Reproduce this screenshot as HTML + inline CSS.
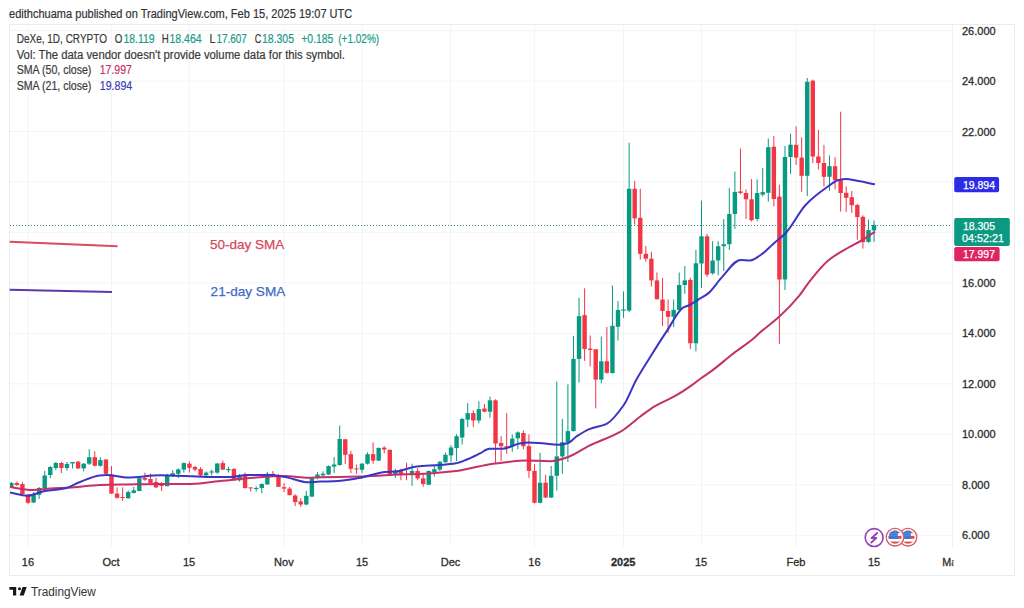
<!DOCTYPE html><html><head><meta charset="utf-8"><style>
html,body{margin:0;padding:0;background:#fff;width:1024px;height:608px;overflow:hidden;}
svg{position:absolute;left:0;top:0;}
text{font-family:"Liberation Sans",sans-serif;}
</style></head><body>
<svg width="1024" height="608" viewBox="0 0 1024 608">
<rect x="0" y="0" width="1024" height="608" fill="#ffffff"/>
<rect x="9.5" y="24.5" width="1005" height="551" fill="none" stroke="#ececec" stroke-width="1"/>
<line x1="10" y1="535.3" x2="952" y2="535.3" stroke="#f3f4f6" stroke-width="1"/>
<line x1="10" y1="484.8" x2="952" y2="484.8" stroke="#f3f4f6" stroke-width="1"/>
<line x1="10" y1="434.3" x2="952" y2="434.3" stroke="#f3f4f6" stroke-width="1"/>
<line x1="10" y1="383.9" x2="952" y2="383.9" stroke="#f3f4f6" stroke-width="1"/>
<line x1="10" y1="333.4" x2="952" y2="333.4" stroke="#f3f4f6" stroke-width="1"/>
<line x1="10" y1="282.9" x2="952" y2="282.9" stroke="#f3f4f6" stroke-width="1"/>
<line x1="10" y1="232.4" x2="952" y2="232.4" stroke="#f3f4f6" stroke-width="1"/>
<line x1="10" y1="181.9" x2="952" y2="181.9" stroke="#f3f4f6" stroke-width="1"/>
<line x1="10" y1="131.5" x2="952" y2="131.5" stroke="#f3f4f6" stroke-width="1"/>
<line x1="10" y1="81.0" x2="952" y2="81.0" stroke="#f3f4f6" stroke-width="1"/>
<line x1="10" y1="30.5" x2="952" y2="30.5" stroke="#f3f4f6" stroke-width="1"/>
<line x1="28" y1="25" x2="28" y2="547" stroke="#f3f4f6" stroke-width="1"/>
<line x1="111.5" y1="25" x2="111.5" y2="547" stroke="#f3f4f6" stroke-width="1"/>
<line x1="189.3" y1="25" x2="189.3" y2="547" stroke="#f3f4f6" stroke-width="1"/>
<line x1="284.2" y1="25" x2="284.2" y2="547" stroke="#f3f4f6" stroke-width="1"/>
<line x1="362.2" y1="25" x2="362.2" y2="547" stroke="#f3f4f6" stroke-width="1"/>
<line x1="450.5" y1="25" x2="450.5" y2="547" stroke="#f3f4f6" stroke-width="1"/>
<line x1="534.5" y1="25" x2="534.5" y2="547" stroke="#f3f4f6" stroke-width="1"/>
<line x1="623.5" y1="25" x2="623.5" y2="547" stroke="#f3f4f6" stroke-width="1"/>
<line x1="701.5" y1="25" x2="701.5" y2="547" stroke="#f3f4f6" stroke-width="1"/>
<line x1="796.2" y1="25" x2="796.2" y2="547" stroke="#f3f4f6" stroke-width="1"/>
<line x1="874" y1="25" x2="874" y2="547" stroke="#f3f4f6" stroke-width="1"/>
<line x1="952.5" y1="25" x2="952.5" y2="547.5" stroke="#efefef" stroke-width="1"/>
<g clip-path="url(#cp)">
<defs><clipPath id="cp"><rect x="10" y="25" width="942" height="522"/></clipPath></defs>
<rect x="10.80" y="482.0" width="1" height="6.0" fill="#089981"/>
<rect x="9.10" y="483.0" width="4.4" height="4.0" fill="#089981"/>
<rect x="16.37" y="481.5" width="1" height="4.5" fill="#f23645"/>
<rect x="14.67" y="483.0" width="4.4" height="2.0" fill="#f23645"/>
<rect x="21.93" y="482.0" width="1" height="13.0" fill="#f23645"/>
<rect x="20.23" y="484.0" width="4.4" height="10.0" fill="#f23645"/>
<rect x="27.50" y="494.0" width="1" height="10.0" fill="#f23645"/>
<rect x="25.80" y="494.7" width="4.4" height="8.1" fill="#f23645"/>
<rect x="33.07" y="492.0" width="1" height="11.0" fill="#089981"/>
<rect x="31.37" y="494.0" width="4.4" height="8.5" fill="#089981"/>
<rect x="38.63" y="487.0" width="1" height="12.0" fill="#089981"/>
<rect x="36.93" y="488.0" width="4.4" height="6.7" fill="#089981"/>
<rect x="44.20" y="471.0" width="1" height="17.0" fill="#089981"/>
<rect x="42.50" y="475.5" width="4.4" height="12.5" fill="#089981"/>
<rect x="49.76" y="466.0" width="1" height="12.0" fill="#089981"/>
<rect x="48.06" y="467.0" width="4.4" height="8.0" fill="#089981"/>
<rect x="55.33" y="462.0" width="1" height="8.0" fill="#089981"/>
<rect x="53.63" y="463.0" width="4.4" height="5.0" fill="#089981"/>
<rect x="60.90" y="462.0" width="1" height="11.0" fill="#f23645"/>
<rect x="59.20" y="463.0" width="4.4" height="5.0" fill="#f23645"/>
<rect x="66.46" y="462.0" width="1" height="8.6" fill="#089981"/>
<rect x="64.76" y="464.0" width="4.4" height="4.0" fill="#089981"/>
<rect x="72.03" y="462.0" width="1" height="6.4" fill="#089981"/>
<rect x="70.33" y="462.0" width="4.4" height="1.5" fill="#089981"/>
<rect x="77.59" y="461.0" width="1" height="8.0" fill="#f23645"/>
<rect x="75.89" y="461.7" width="4.4" height="6.7" fill="#f23645"/>
<rect x="83.16" y="463.0" width="1" height="8.4" fill="#089981"/>
<rect x="81.46" y="463.7" width="4.4" height="4.7" fill="#089981"/>
<rect x="88.73" y="449.2" width="1" height="15.8" fill="#089981"/>
<rect x="87.03" y="457.2" width="4.4" height="6.5" fill="#089981"/>
<rect x="94.29" y="451.3" width="1" height="15.0" fill="#f23645"/>
<rect x="92.59" y="457.2" width="4.4" height="8.6" fill="#f23645"/>
<rect x="99.86" y="457.2" width="1" height="9.5" fill="#089981"/>
<rect x="98.16" y="460.1" width="4.4" height="5.7" fill="#089981"/>
<rect x="105.42" y="459.0" width="1" height="15.0" fill="#f23645"/>
<rect x="103.72" y="459.5" width="4.4" height="14.3" fill="#f23645"/>
<rect x="110.99" y="466.0" width="1" height="28.0" fill="#f23645"/>
<rect x="109.29" y="474.4" width="4.4" height="19.2" fill="#f23645"/>
<rect x="116.56" y="487.4" width="1" height="11.2" fill="#f23645"/>
<rect x="114.86" y="493.6" width="4.4" height="4.2" fill="#f23645"/>
<rect x="122.12" y="487.4" width="1" height="13.6" fill="#f23645"/>
<rect x="120.42" y="497.0" width="4.4" height="1.0" fill="#f23645"/>
<rect x="127.69" y="490.4" width="1" height="8.2" fill="#089981"/>
<rect x="125.99" y="492.1" width="4.4" height="6.2" fill="#089981"/>
<rect x="133.25" y="486.8" width="1" height="6.5" fill="#089981"/>
<rect x="131.55" y="490.4" width="4.4" height="2.6" fill="#089981"/>
<rect x="138.82" y="477.7" width="1" height="13.5" fill="#089981"/>
<rect x="137.12" y="478.2" width="4.4" height="12.8" fill="#089981"/>
<rect x="144.39" y="472.6" width="1" height="8.3" fill="#f23645"/>
<rect x="142.69" y="478.0" width="4.4" height="1.7" fill="#f23645"/>
<rect x="149.95" y="473.8" width="1" height="9.8" fill="#f23645"/>
<rect x="148.25" y="479.0" width="4.4" height="4.2" fill="#f23645"/>
<rect x="155.52" y="477.7" width="1" height="10.3" fill="#f23645"/>
<rect x="153.82" y="482.0" width="4.4" height="5.4" fill="#f23645"/>
<rect x="161.08" y="482.0" width="1" height="9.0" fill="#f23645"/>
<rect x="159.38" y="485.0" width="4.4" height="1.0" fill="#f23645"/>
<rect x="166.65" y="473.8" width="1" height="12.6" fill="#089981"/>
<rect x="164.95" y="475.5" width="4.4" height="10.7" fill="#089981"/>
<rect x="172.22" y="470.2" width="1" height="6.5" fill="#089981"/>
<rect x="170.52" y="473.2" width="4.4" height="3.3" fill="#089981"/>
<rect x="177.78" y="468.4" width="1" height="9.6" fill="#089981"/>
<rect x="176.08" y="469.4" width="4.4" height="4.4" fill="#089981"/>
<rect x="183.35" y="462.5" width="1" height="10.1" fill="#089981"/>
<rect x="181.65" y="463.1" width="4.4" height="6.5" fill="#089981"/>
<rect x="188.91" y="461.3" width="1" height="11.3" fill="#f23645"/>
<rect x="187.21" y="463.7" width="4.4" height="4.1" fill="#f23645"/>
<rect x="194.48" y="466.0" width="1" height="5.4" fill="#f23645"/>
<rect x="192.78" y="467.0" width="4.4" height="2.6" fill="#f23645"/>
<rect x="200.05" y="467.2" width="1" height="8.9" fill="#f23645"/>
<rect x="198.35" y="469.0" width="4.4" height="6.3" fill="#f23645"/>
<rect x="205.61" y="471.4" width="1" height="5.3" fill="#089981"/>
<rect x="203.91" y="472.6" width="4.4" height="2.7" fill="#089981"/>
<rect x="211.18" y="469.6" width="1" height="5.9" fill="#089981"/>
<rect x="209.48" y="471.4" width="4.4" height="1.2" fill="#089981"/>
<rect x="216.74" y="463.1" width="1" height="10.7" fill="#089981"/>
<rect x="215.04" y="463.5" width="4.4" height="9.1" fill="#089981"/>
<rect x="222.31" y="460.7" width="1" height="8.9" fill="#f23645"/>
<rect x="220.61" y="463.1" width="4.4" height="6.5" fill="#f23645"/>
<rect x="227.88" y="466.7" width="1" height="5.9" fill="#089981"/>
<rect x="226.18" y="469.0" width="4.4" height="1.2" fill="#089981"/>
<rect x="233.44" y="468.0" width="1" height="12.5" fill="#f23645"/>
<rect x="231.74" y="469.0" width="4.4" height="11.3" fill="#f23645"/>
<rect x="239.01" y="474.0" width="1" height="7.5" fill="#089981"/>
<rect x="237.31" y="475.0" width="4.4" height="5.3" fill="#089981"/>
<rect x="244.57" y="472.6" width="1" height="16.0" fill="#f23645"/>
<rect x="242.87" y="474.4" width="4.4" height="13.6" fill="#f23645"/>
<rect x="250.14" y="487.4" width="1" height="4.1" fill="#f23645"/>
<rect x="248.44" y="487.4" width="4.4" height="1.0" fill="#f23645"/>
<rect x="255.71" y="486.2" width="1" height="5.3" fill="#089981"/>
<rect x="254.01" y="488.0" width="4.4" height="1.0" fill="#089981"/>
<rect x="261.27" y="483.2" width="1" height="10.1" fill="#089981"/>
<rect x="259.57" y="484.0" width="4.4" height="4.0" fill="#089981"/>
<rect x="266.84" y="471.8" width="1" height="13.0" fill="#089981"/>
<rect x="265.14" y="473.8" width="4.4" height="10.6" fill="#089981"/>
<rect x="272.40" y="471.0" width="1" height="4.5" fill="#f23645"/>
<rect x="270.70" y="473.8" width="4.4" height="1.2" fill="#f23645"/>
<rect x="277.97" y="474.0" width="1" height="13.0" fill="#f23645"/>
<rect x="276.27" y="475.0" width="4.4" height="11.8" fill="#f23645"/>
<rect x="283.54" y="483.2" width="1" height="8.9" fill="#f23645"/>
<rect x="281.84" y="487.2" width="4.4" height="1.4" fill="#f23645"/>
<rect x="289.10" y="487.0" width="1" height="8.5" fill="#f23645"/>
<rect x="287.40" y="488.6" width="4.4" height="6.5" fill="#f23645"/>
<rect x="294.67" y="494.2" width="1" height="11.8" fill="#f23645"/>
<rect x="292.97" y="495.5" width="4.4" height="6.6" fill="#f23645"/>
<rect x="300.23" y="498.2" width="1" height="8.7" fill="#f23645"/>
<rect x="298.53" y="501.4" width="4.4" height="3.1" fill="#f23645"/>
<rect x="305.80" y="491.0" width="1" height="14.3" fill="#089981"/>
<rect x="304.10" y="495.8" width="4.4" height="8.7" fill="#089981"/>
<rect x="311.37" y="477.0" width="1" height="19.8" fill="#089981"/>
<rect x="309.67" y="477.7" width="4.4" height="18.9" fill="#089981"/>
<rect x="316.93" y="472.0" width="1" height="7.2" fill="#089981"/>
<rect x="315.23" y="474.5" width="4.4" height="2.4" fill="#089981"/>
<rect x="322.50" y="471.3" width="1" height="5.6" fill="#089981"/>
<rect x="320.80" y="473.7" width="4.4" height="1.6" fill="#089981"/>
<rect x="328.06" y="465.5" width="1" height="9.5" fill="#089981"/>
<rect x="326.36" y="466.1" width="4.4" height="8.4" fill="#089981"/>
<rect x="333.63" y="457.1" width="1" height="15.8" fill="#089981"/>
<rect x="331.93" y="464.5" width="4.4" height="2.1" fill="#089981"/>
<rect x="339.20" y="425.5" width="1" height="40.3" fill="#089981"/>
<rect x="337.50" y="439.0" width="4.4" height="26.0" fill="#089981"/>
<rect x="344.76" y="439.0" width="1" height="25.2" fill="#f23645"/>
<rect x="343.06" y="439.3" width="4.4" height="15.5" fill="#f23645"/>
<rect x="350.33" y="450.8" width="1" height="22.4" fill="#f23645"/>
<rect x="348.63" y="454.2" width="4.4" height="14.6" fill="#f23645"/>
<rect x="355.89" y="464.5" width="1" height="9.5" fill="#f23645"/>
<rect x="354.19" y="468.5" width="4.4" height="1.0" fill="#f23645"/>
<rect x="361.46" y="463.0" width="1" height="10.2" fill="#089981"/>
<rect x="359.76" y="463.7" width="4.4" height="6.0" fill="#089981"/>
<rect x="367.03" y="452.3" width="1" height="12.2" fill="#089981"/>
<rect x="365.33" y="454.2" width="4.4" height="9.5" fill="#089981"/>
<rect x="372.59" y="442.4" width="1" height="21.3" fill="#f23645"/>
<rect x="370.89" y="454.2" width="4.4" height="6.4" fill="#f23645"/>
<rect x="378.16" y="447.6" width="1" height="13.4" fill="#089981"/>
<rect x="376.46" y="447.9" width="4.4" height="12.7" fill="#089981"/>
<rect x="383.72" y="446.3" width="1" height="7.1" fill="#f23645"/>
<rect x="382.02" y="447.6" width="4.4" height="1.9" fill="#f23645"/>
<rect x="389.29" y="449.5" width="1" height="25.5" fill="#f23645"/>
<rect x="387.59" y="449.8" width="4.4" height="25.0" fill="#f23645"/>
<rect x="394.86" y="468.8" width="1" height="9.2" fill="#089981"/>
<rect x="393.16" y="470.8" width="4.4" height="3.2" fill="#089981"/>
<rect x="400.42" y="468.8" width="1" height="11.5" fill="#f23645"/>
<rect x="398.72" y="471.3" width="4.4" height="3.5" fill="#f23645"/>
<rect x="405.99" y="462.8" width="1" height="17.4" fill="#f23645"/>
<rect x="404.29" y="473.8" width="4.4" height="1.2" fill="#f23645"/>
<rect x="411.55" y="463.7" width="1" height="22.1" fill="#089981"/>
<rect x="409.85" y="471.0" width="4.4" height="4.0" fill="#089981"/>
<rect x="417.12" y="468.3" width="1" height="11.7" fill="#f23645"/>
<rect x="415.42" y="471.0" width="4.4" height="7.4" fill="#f23645"/>
<rect x="422.69" y="472.9" width="1" height="13.8" fill="#f23645"/>
<rect x="420.99" y="478.4" width="4.4" height="5.6" fill="#f23645"/>
<rect x="428.25" y="470.5" width="1" height="14.5" fill="#089981"/>
<rect x="426.55" y="471.0" width="4.4" height="13.8" fill="#089981"/>
<rect x="433.82" y="465.5" width="1" height="11.1" fill="#089981"/>
<rect x="432.12" y="469.2" width="4.4" height="2.8" fill="#089981"/>
<rect x="439.38" y="460.9" width="1" height="10.1" fill="#089981"/>
<rect x="437.68" y="461.8" width="4.4" height="7.8" fill="#089981"/>
<rect x="444.95" y="452.6" width="1" height="10.1" fill="#089981"/>
<rect x="443.25" y="454.8" width="4.4" height="7.4" fill="#089981"/>
<rect x="450.52" y="445.2" width="1" height="17.0" fill="#089981"/>
<rect x="448.82" y="447.5" width="4.4" height="7.9" fill="#089981"/>
<rect x="456.08" y="434.2" width="1" height="26.8" fill="#089981"/>
<rect x="454.38" y="436.2" width="4.4" height="11.8" fill="#089981"/>
<rect x="461.65" y="417.8" width="1" height="26.7" fill="#089981"/>
<rect x="459.95" y="419.0" width="4.4" height="18.5" fill="#089981"/>
<rect x="467.21" y="403.0" width="1" height="24.0" fill="#089981"/>
<rect x="465.51" y="413.1" width="4.4" height="6.5" fill="#089981"/>
<rect x="472.78" y="410.4" width="1" height="16.6" fill="#f23645"/>
<rect x="471.08" y="413.1" width="4.4" height="7.4" fill="#f23645"/>
<rect x="478.35" y="401.2" width="1" height="22.1" fill="#089981"/>
<rect x="476.65" y="409.1" width="4.4" height="11.4" fill="#089981"/>
<rect x="483.91" y="404.0" width="1" height="8.2" fill="#f23645"/>
<rect x="482.21" y="408.5" width="4.4" height="3.2" fill="#f23645"/>
<rect x="489.48" y="396.6" width="1" height="21.2" fill="#089981"/>
<rect x="487.78" y="400.3" width="4.4" height="11.4" fill="#089981"/>
<rect x="495.04" y="399.3" width="1" height="64.5" fill="#f23645"/>
<rect x="493.34" y="400.3" width="4.4" height="43.2" fill="#f23645"/>
<rect x="500.61" y="436.2" width="1" height="24.8" fill="#f23645"/>
<rect x="498.91" y="443.0" width="4.4" height="3.3" fill="#f23645"/>
<rect x="506.18" y="413.1" width="1" height="40.6" fill="#f23645"/>
<rect x="504.48" y="446.3" width="4.4" height="1.0" fill="#f23645"/>
<rect x="511.74" y="434.3" width="1" height="17.5" fill="#089981"/>
<rect x="510.04" y="438.6" width="4.4" height="7.7" fill="#089981"/>
<rect x="517.31" y="431.4" width="1" height="17.8" fill="#089981"/>
<rect x="515.61" y="432.4" width="4.4" height="5.9" fill="#089981"/>
<rect x="522.87" y="430.4" width="1" height="18.8" fill="#f23645"/>
<rect x="521.17" y="433.0" width="4.4" height="13.2" fill="#f23645"/>
<rect x="528.44" y="434.4" width="1" height="43.4" fill="#f23645"/>
<rect x="526.74" y="446.2" width="4.4" height="24.7" fill="#f23645"/>
<rect x="534.01" y="464.0" width="1" height="39.4" fill="#f23645"/>
<rect x="532.31" y="470.9" width="4.4" height="31.9" fill="#f23645"/>
<rect x="539.57" y="452.7" width="1" height="50.7" fill="#089981"/>
<rect x="537.87" y="482.7" width="4.4" height="20.1" fill="#089981"/>
<rect x="545.14" y="474.8" width="1" height="23.2" fill="#f23645"/>
<rect x="543.44" y="482.7" width="4.4" height="14.8" fill="#f23645"/>
<rect x="550.70" y="466.0" width="1" height="32.0" fill="#089981"/>
<rect x="549.00" y="475.8" width="4.4" height="21.7" fill="#089981"/>
<rect x="556.27" y="381.4" width="1" height="109.2" fill="#089981"/>
<rect x="554.57" y="456.4" width="4.4" height="19.4" fill="#089981"/>
<rect x="561.84" y="418.9" width="1" height="54.9" fill="#089981"/>
<rect x="560.14" y="442.2" width="4.4" height="14.2" fill="#089981"/>
<rect x="567.40" y="384.4" width="1" height="77.6" fill="#089981"/>
<rect x="565.70" y="431.1" width="4.4" height="11.1" fill="#089981"/>
<rect x="572.97" y="336.0" width="1" height="95.4" fill="#089981"/>
<rect x="571.27" y="358.9" width="4.4" height="72.2" fill="#089981"/>
<rect x="578.53" y="297.8" width="1" height="84.8" fill="#089981"/>
<rect x="576.83" y="316.1" width="4.4" height="42.8" fill="#089981"/>
<rect x="584.10" y="288.3" width="1" height="72.6" fill="#f23645"/>
<rect x="582.40" y="315.1" width="4.4" height="33.9" fill="#f23645"/>
<rect x="589.67" y="335.4" width="1" height="31.1" fill="#f23645"/>
<rect x="587.97" y="348.6" width="4.4" height="1.4" fill="#f23645"/>
<rect x="595.23" y="349.0" width="1" height="59.4" fill="#f23645"/>
<rect x="593.53" y="349.3" width="4.4" height="30.3" fill="#f23645"/>
<rect x="600.80" y="336.5" width="1" height="46.9" fill="#089981"/>
<rect x="599.10" y="361.3" width="4.4" height="18.3" fill="#089981"/>
<rect x="606.36" y="327.0" width="1" height="46.7" fill="#f23645"/>
<rect x="604.66" y="361.3" width="4.4" height="11.5" fill="#f23645"/>
<rect x="611.93" y="285.5" width="1" height="88.2" fill="#089981"/>
<rect x="610.23" y="325.8" width="4.4" height="47.2" fill="#089981"/>
<rect x="617.50" y="301.0" width="1" height="39.5" fill="#089981"/>
<rect x="615.80" y="310.0" width="4.4" height="16.8" fill="#089981"/>
<rect x="623.06" y="291.3" width="1" height="26.6" fill="#089981"/>
<rect x="621.36" y="309.4" width="4.4" height="1.2" fill="#089981"/>
<rect x="628.63" y="142.8" width="1" height="169.2" fill="#089981"/>
<rect x="626.93" y="188.8" width="4.4" height="121.8" fill="#089981"/>
<rect x="634.19" y="180.9" width="1" height="43.8" fill="#f23645"/>
<rect x="632.49" y="188.8" width="4.4" height="29.6" fill="#f23645"/>
<rect x="639.76" y="188.8" width="1" height="70.9" fill="#f23645"/>
<rect x="638.06" y="217.8" width="4.4" height="36.0" fill="#f23645"/>
<rect x="645.33" y="245.9" width="1" height="15.8" fill="#f23645"/>
<rect x="643.63" y="253.8" width="4.4" height="4.9" fill="#f23645"/>
<rect x="650.89" y="251.8" width="1" height="34.6" fill="#f23645"/>
<rect x="649.19" y="258.7" width="4.4" height="21.7" fill="#f23645"/>
<rect x="656.46" y="272.5" width="1" height="27.0" fill="#f23645"/>
<rect x="654.76" y="280.4" width="4.4" height="18.8" fill="#f23645"/>
<rect x="662.02" y="278.0" width="1" height="48.0" fill="#f23645"/>
<rect x="660.32" y="299.5" width="4.4" height="11.5" fill="#f23645"/>
<rect x="667.59" y="299.5" width="1" height="33.4" fill="#f23645"/>
<rect x="665.89" y="311.0" width="4.4" height="5.8" fill="#f23645"/>
<rect x="673.16" y="299.5" width="1" height="27.6" fill="#089981"/>
<rect x="671.46" y="309.9" width="4.4" height="6.9" fill="#089981"/>
<rect x="678.72" y="272.5" width="1" height="38.5" fill="#089981"/>
<rect x="677.02" y="285.0" width="4.4" height="24.9" fill="#089981"/>
<rect x="684.29" y="266.0" width="1" height="27.7" fill="#089981"/>
<rect x="682.59" y="280.4" width="4.4" height="4.6" fill="#089981"/>
<rect x="689.85" y="277.6" width="1" height="71.4" fill="#f23645"/>
<rect x="688.15" y="279.9" width="4.4" height="63.4" fill="#f23645"/>
<rect x="695.42" y="250.0" width="1" height="101.3" fill="#089981"/>
<rect x="693.72" y="263.3" width="4.4" height="80.0" fill="#089981"/>
<rect x="700.99" y="200.5" width="1" height="87.5" fill="#089981"/>
<rect x="699.29" y="236.3" width="4.4" height="27.2" fill="#089981"/>
<rect x="706.55" y="233.8" width="1" height="43.2" fill="#f23645"/>
<rect x="704.85" y="236.3" width="4.4" height="38.3" fill="#f23645"/>
<rect x="712.12" y="241.2" width="1" height="33.4" fill="#089981"/>
<rect x="710.42" y="260.5" width="4.4" height="12.8" fill="#089981"/>
<rect x="717.68" y="241.2" width="1" height="34.1" fill="#089981"/>
<rect x="715.98" y="246.2" width="4.4" height="14.3" fill="#089981"/>
<rect x="723.25" y="219.0" width="1" height="51.9" fill="#089981"/>
<rect x="721.55" y="244.2" width="4.4" height="2.0" fill="#089981"/>
<rect x="728.82" y="188.1" width="1" height="61.8" fill="#089981"/>
<rect x="727.12" y="214.0" width="4.4" height="30.2" fill="#089981"/>
<rect x="734.38" y="171.6" width="1" height="57.3" fill="#089981"/>
<rect x="732.68" y="191.9" width="4.4" height="22.1" fill="#089981"/>
<rect x="739.95" y="148.6" width="1" height="45.7" fill="#f23645"/>
<rect x="738.25" y="191.4" width="4.4" height="1.6" fill="#f23645"/>
<rect x="745.51" y="189.4" width="1" height="29.6" fill="#f23645"/>
<rect x="743.81" y="193.0" width="4.4" height="6.3" fill="#f23645"/>
<rect x="751.08" y="179.0" width="1" height="42.5" fill="#f23645"/>
<rect x="749.38" y="199.3" width="4.4" height="20.9" fill="#f23645"/>
<rect x="756.65" y="179.3" width="1" height="41.9" fill="#089981"/>
<rect x="754.95" y="193.0" width="4.4" height="26.0" fill="#089981"/>
<rect x="762.21" y="168.1" width="1" height="28.4" fill="#089981"/>
<rect x="760.51" y="192.1" width="4.4" height="2.5" fill="#089981"/>
<rect x="767.78" y="138.5" width="1" height="63.0" fill="#089981"/>
<rect x="766.08" y="147.2" width="4.4" height="45.6" fill="#089981"/>
<rect x="773.34" y="136.0" width="1" height="70.4" fill="#f23645"/>
<rect x="771.64" y="146.7" width="4.4" height="52.3" fill="#f23645"/>
<rect x="778.91" y="184.7" width="1" height="159.3" fill="#f23645"/>
<rect x="777.21" y="196.6" width="4.4" height="82.9" fill="#f23645"/>
<rect x="784.48" y="145.9" width="1" height="144.1" fill="#089981"/>
<rect x="782.78" y="157.0" width="4.4" height="122.5" fill="#089981"/>
<rect x="790.04" y="133.6" width="1" height="40.2" fill="#089981"/>
<rect x="788.34" y="144.7" width="4.4" height="12.3" fill="#089981"/>
<rect x="795.61" y="126.4" width="1" height="38.6" fill="#f23645"/>
<rect x="793.91" y="144.8" width="4.4" height="12.8" fill="#f23645"/>
<rect x="801.17" y="137.3" width="1" height="54.5" fill="#f23645"/>
<rect x="799.47" y="157.6" width="4.4" height="18.2" fill="#f23645"/>
<rect x="806.74" y="78.0" width="1" height="118.0" fill="#089981"/>
<rect x="805.04" y="81.8" width="4.4" height="94.0" fill="#089981"/>
<rect x="812.31" y="79.6" width="1" height="83.4" fill="#f23645"/>
<rect x="810.61" y="80.7" width="4.4" height="75.8" fill="#f23645"/>
<rect x="817.87" y="129.8" width="1" height="39.6" fill="#f23645"/>
<rect x="816.17" y="156.5" width="4.4" height="6.5" fill="#f23645"/>
<rect x="823.44" y="144.8" width="1" height="41.7" fill="#f23645"/>
<rect x="821.74" y="163.0" width="4.4" height="13.8" fill="#f23645"/>
<rect x="829.00" y="155.5" width="1" height="35.2" fill="#089981"/>
<rect x="827.30" y="166.2" width="4.4" height="10.6" fill="#089981"/>
<rect x="834.57" y="157.2" width="1" height="32.3" fill="#f23645"/>
<rect x="832.87" y="166.2" width="4.4" height="13.8" fill="#f23645"/>
<rect x="840.14" y="111.7" width="1" height="99.9" fill="#f23645"/>
<rect x="838.44" y="180.0" width="4.4" height="13.0" fill="#f23645"/>
<rect x="845.70" y="186.4" width="1" height="25.6" fill="#f23645"/>
<rect x="844.00" y="192.8" width="4.4" height="5.0" fill="#f23645"/>
<rect x="851.27" y="190.9" width="1" height="22.1" fill="#f23645"/>
<rect x="849.57" y="197.2" width="4.4" height="8.0" fill="#f23645"/>
<rect x="856.83" y="203.8" width="1" height="35.9" fill="#f23645"/>
<rect x="855.13" y="205.0" width="4.4" height="12.1" fill="#f23645"/>
<rect x="862.40" y="215.3" width="1" height="33.3" fill="#f23645"/>
<rect x="860.70" y="216.8" width="4.4" height="25.4" fill="#f23645"/>
<rect x="867.97" y="219.7" width="1" height="23.0" fill="#089981"/>
<rect x="866.27" y="230.1" width="4.4" height="11.8" fill="#089981"/>
<rect x="873.53" y="220.5" width="1" height="21.4" fill="#089981"/>
<rect x="871.83" y="224.9" width="4.4" height="5.5" fill="#089981"/>
</g>
<g clip-path="url(#cp)">
<path d="M10.0,487.0 C17.23,488.00 24.47,490.00 31.7,490.0 C37.80,490.00 43.90,488.88 50.0,488.5 C57.33,488.04 64.67,487.86 72.0,487.4 C81.17,486.82 90.33,485.31 99.5,485.0 C109.00,484.68 118.50,484.57 128.0,484.4 C138.67,484.21 149.33,483.90 160.0,483.9 C170.33,483.90 180.67,483.90 191.0,483.9 C201.50,483.90 212.00,481.84 222.5,480.8 C232.92,479.77 243.33,478.40 253.8,477.7 C264.17,477.00 274.58,476.10 285.0,476.1 C292.80,476.10 300.60,477.70 308.4,477.7 C312.27,477.70 316.13,477.40 320.0,477.3 C333.00,476.97 346.00,476.95 359.0,476.6 C369.33,476.32 379.67,475.47 390.0,475.0 C403.00,474.40 416.00,474.14 429.0,473.4 C438.00,472.89 447.00,472.19 456.0,471.1 C464.00,470.13 472.00,467.66 480.0,466.2 C485.20,465.25 490.40,464.26 495.6,463.6 C506.03,462.27 516.47,460.50 526.9,460.5 C534.70,460.50 542.50,461.25 550.3,461.2 C556.03,461.25 561.77,459.11 567.5,457.3 C574.80,454.99 582.10,449.18 589.4,445.6 C599.80,440.50 610.20,437.61 620.6,431.6 C627.07,427.86 633.53,421.45 640.0,416.7 C645.00,413.03 650.00,409.06 655.0,406.1 C661.57,402.21 668.13,399.92 674.7,396.2 C680.20,393.09 685.70,389.44 691.2,385.6 C694.47,383.32 697.73,380.54 701.0,378.2 C704.47,375.71 707.93,373.63 711.4,371.1 C718.50,365.91 725.60,359.50 732.7,354.0 C739.83,348.48 746.97,344.04 754.1,338.0 C756.07,336.33 758.03,334.24 760.0,332.5 C766.57,326.70 773.13,322.38 779.7,316.3 C786.30,310.19 792.90,303.33 799.5,295.3 C803.00,291.04 806.50,285.15 810.0,280.8 C816.27,273.02 822.53,265.05 828.8,260.0 C835.40,254.68 842.00,251.36 848.6,247.5 C852.97,244.95 857.33,242.90 861.7,240.3 C866.10,237.68 870.50,234.57 874.9,231.7" fill="none" stroke="#c4306c" stroke-width="2" stroke-linejoin="round" stroke-linecap="butt"/>
<path d="M10.0,492.5 C15.67,493.57 21.33,495.70 27.0,495.7 C33.00,495.70 39.00,492.02 45.0,491.0 C51.33,489.92 57.67,489.84 64.0,488.6 C69.33,487.55 74.67,483.97 80.0,482.0 C86.50,479.59 93.00,476.18 99.5,475.5 C101.90,475.25 104.30,475.00 106.7,475.0 C113.80,475.00 120.90,477.50 128.0,477.5 C138.67,477.50 149.33,475.30 160.0,475.3 C175.67,475.30 191.33,476.90 207.0,476.9 C214.67,476.90 222.33,476.90 230.0,476.9 C235.83,476.90 241.67,475.00 247.5,475.0 C254.67,475.00 261.83,475.00 269.0,475.0 C274.33,475.00 279.67,476.08 285.0,476.9 C292.80,478.10 300.60,482.30 308.4,482.3 C312.27,482.30 316.13,481.59 320.0,481.5 C324.67,481.39 329.33,481.41 334.0,481.3 C342.33,481.10 350.67,479.47 359.0,478.1 C367.87,476.64 376.73,472.34 385.6,471.9 C388.73,471.74 391.87,471.76 395.0,471.6 C402.30,471.23 409.60,467.11 416.9,466.4 C424.60,465.65 432.30,465.60 440.0,465.0 C445.33,464.58 450.67,464.20 456.0,463.3 C460.00,462.63 464.00,460.62 468.0,459.0 C472.00,457.38 476.00,455.32 480.0,453.4 C483.13,451.89 486.27,448.75 489.4,448.8 C493.57,448.75 497.73,448.75 501.9,448.8 C508.13,448.75 514.37,444.19 520.6,443.3 C523.20,442.93 525.80,442.50 528.4,442.5 C533.10,442.50 537.80,442.97 542.5,443.3 C547.67,443.67 552.83,444.80 558.0,444.8 C561.17,444.80 564.33,444.13 567.5,443.3 C570.63,442.48 573.77,438.28 576.9,436.2 C581.07,433.55 585.23,430.92 589.4,429.2 C595.13,426.84 600.87,426.57 606.6,423.8 C612.32,420.94 618.03,413.21 623.8,405.0 C627.92,399.02 632.08,387.53 636.2,380.0 C640.60,372.14 644.95,365.49 649.3,358.5 C655.07,349.23 660.83,339.95 666.6,331.4 C672.33,322.90 678.07,310.02 683.8,307.2 C685.47,306.38 687.13,306.21 688.8,305.5 C692.07,304.10 695.33,301.36 698.6,299.3 C701.90,297.22 705.20,295.76 708.5,293.1 C713.00,289.47 717.50,281.82 722.0,277.1 C728.17,270.63 734.33,259.90 740.5,259.9 C743.80,259.90 747.10,260.40 750.4,260.4 C753.60,260.40 756.80,257.54 760.0,255.5 C764.30,252.76 768.60,247.97 772.9,244.2 C777.27,240.37 781.63,237.36 786.0,232.7 C792.60,225.66 799.20,211.62 805.8,204.7 C812.37,197.82 818.93,192.96 825.5,188.3 C829.90,185.18 834.30,180.92 838.7,180.0 C840.90,179.54 843.10,179.10 845.3,179.1 C849.67,179.10 854.03,180.27 858.4,181.0 C863.90,181.92 869.40,183.20 874.9,184.3" fill="none" stroke="#3b34c4" stroke-width="2" stroke-linejoin="round" stroke-linecap="butt"/>
</g>
<line x1="10" y1="225.5" x2="952" y2="225.5" stroke="#3c8c80" stroke-width="1" stroke-dasharray="1 2"/>
<line x1="9.7" y1="241.7" x2="117.6" y2="246.2" stroke="#dc4b5c" stroke-width="2"/>
<line x1="9.7" y1="289.8" x2="112" y2="292" stroke="#5a3aa8" stroke-width="2"/>
<text x="210" y="249" font-size="13" fill="#d24b5c" stroke="#d24b5c" stroke-width="0.25" textLength="74.3" lengthAdjust="spacingAndGlyphs">50-day SMA</text>
<text x="210.6" y="296.3" font-size="13" fill="#3f6cc4" stroke="#3f6cc4" stroke-width="0.25" textLength="74.7" lengthAdjust="spacingAndGlyphs">21-day SMA</text>
<text x="9" y="18" font-size="12.5" fill="#333333" stroke="#333333" stroke-width="0.2" textLength="343.3" lengthAdjust="spacingAndGlyphs">edithchuama published on TradingView.com, Feb 15, 2025 19:07 UTC</text>
<text x="16.7" y="43" font-size="12" fill="#3a3a3a" stroke="#3a3a3a" stroke-width="0.2" textLength="90.3" lengthAdjust="spacingAndGlyphs">DeXe, 1D, CRYPTO</text>
<text x="114.8" y="43" font-size="12" fill="#3a3a3a" stroke="#3a3a3a" stroke-width="0.2" textLength="7.6" lengthAdjust="spacingAndGlyphs">O</text>
<text x="123.4" y="43" font-size="12" fill="#1a9a88" stroke="#1a9a88" stroke-width="0.2" textLength="31.3" lengthAdjust="spacingAndGlyphs">18.119</text>
<text x="161.7" y="43" font-size="12" fill="#3a3a3a" stroke="#3a3a3a" stroke-width="0.2" textLength="7.0" lengthAdjust="spacingAndGlyphs">H</text>
<text x="169.5" y="43" font-size="12" fill="#1a9a88" stroke="#1a9a88" stroke-width="0.2" textLength="32.1" lengthAdjust="spacingAndGlyphs">18.464</text>
<text x="209.4" y="43" font-size="12" fill="#3a3a3a" stroke="#3a3a3a" stroke-width="0.2" textLength="6.0" lengthAdjust="spacingAndGlyphs">L</text>
<text x="216.4" y="43" font-size="12" fill="#1a9a88" stroke="#1a9a88" stroke-width="0.2" textLength="30.5" lengthAdjust="spacingAndGlyphs">17.607</text>
<text x="254.8" y="43" font-size="12" fill="#3a3a3a" stroke="#3a3a3a" stroke-width="0.2" textLength="6.6" lengthAdjust="spacingAndGlyphs">C</text>
<text x="262" y="43" font-size="12" fill="#1a9a88" stroke="#1a9a88" stroke-width="0.2" textLength="32" lengthAdjust="spacingAndGlyphs">18.305</text>
<text x="301.3" y="43" font-size="12" fill="#1a9a88" stroke="#1a9a88" stroke-width="0.2" textLength="32.1" lengthAdjust="spacingAndGlyphs">+0.185</text>
<text x="338.2" y="43" font-size="12" fill="#1a9a88" stroke="#1a9a88" stroke-width="0.2" textLength="41" lengthAdjust="spacingAndGlyphs">(+1.02%)</text>
<text x="16.7" y="58.5" font-size="12" fill="#3a3a3a" stroke="#3a3a3a" stroke-width="0.2" textLength="328.3" lengthAdjust="spacingAndGlyphs">Vol: The data vendor doesn't provide volume data for this symbol.</text>
<text x="16.7" y="74" font-size="12" fill="#3a3a3a" stroke="#3a3a3a" stroke-width="0.2" textLength="74.7" lengthAdjust="spacingAndGlyphs">SMA (50, close)</text>
<text x="99.8" y="74" font-size="12" fill="#c43470" stroke="#c43470" stroke-width="0.2" textLength="32" lengthAdjust="spacingAndGlyphs">17.997</text>
<text x="16.7" y="89.6" font-size="12" fill="#3a3a3a" stroke="#3a3a3a" stroke-width="0.2" textLength="74.7" lengthAdjust="spacingAndGlyphs">SMA (21, close)</text>
<text x="99.8" y="89.6" font-size="12" fill="#3d3db4" stroke="#3d3db4" stroke-width="0.2" textLength="32.4" lengthAdjust="spacingAndGlyphs">19.894</text>
<text x="962" y="539.3" font-size="11" fill="#2e2e2e" stroke="#2e2e2e" stroke-width="0.3">6.000</text>
<text x="962" y="488.8" font-size="11" fill="#2e2e2e" stroke="#2e2e2e" stroke-width="0.3">8.000</text>
<text x="962" y="438.3" font-size="11" fill="#2e2e2e" stroke="#2e2e2e" stroke-width="0.3">10.000</text>
<text x="962" y="387.9" font-size="11" fill="#2e2e2e" stroke="#2e2e2e" stroke-width="0.3">12.000</text>
<text x="962" y="337.4" font-size="11" fill="#2e2e2e" stroke="#2e2e2e" stroke-width="0.3">14.000</text>
<text x="962" y="286.9" font-size="11" fill="#2e2e2e" stroke="#2e2e2e" stroke-width="0.3">16.000</text>
<text x="962" y="236.4" font-size="11" fill="#2e2e2e" stroke="#2e2e2e" stroke-width="0.3">18.000</text>
<text x="962" y="185.9" font-size="11" fill="#2e2e2e" stroke="#2e2e2e" stroke-width="0.3">20.000</text>
<text x="962" y="135.5" font-size="11" fill="#2e2e2e" stroke="#2e2e2e" stroke-width="0.3">22.000</text>
<text x="962" y="85.0" font-size="11" fill="#2e2e2e" stroke="#2e2e2e" stroke-width="0.3">24.000</text>
<text x="962" y="34.5" font-size="11" fill="#2e2e2e" stroke="#2e2e2e" stroke-width="0.3">26.000</text>
<rect x="954.2" y="176.9" width="44.9" height="15.3" rx="2" fill="#2c2ce8"/>
<text x="962.9" y="188.9" font-size="11" fill="#ffffff" stroke="#ffffff" stroke-width="0.25" textLength="32.1" lengthAdjust="spacingAndGlyphs">19.894</text>
<rect x="954.2" y="218" width="55.6" height="28" rx="2" fill="#0c9981"/>
<text x="962.9" y="229.5" font-size="11" fill="#ffffff" stroke="#ffffff" stroke-width="0.25" textLength="32.1" lengthAdjust="spacingAndGlyphs">18.305</text>
<text x="962" y="242.4" font-size="11" fill="#ffffff" stroke="#ffffff" stroke-width="0.25" textLength="42" lengthAdjust="spacingAndGlyphs">04:52:21</text>
<rect x="954.2" y="247" width="45.4" height="14.3" rx="2" fill="#e0245e"/>
<text x="962.9" y="258" font-size="11" fill="#ffffff" stroke="#ffffff" stroke-width="0.25" textLength="32.1" lengthAdjust="spacingAndGlyphs">17.997</text>
<text x="27.9" y="566.3" font-size="11" fill="#2e2e2e" stroke="#2e2e2e" stroke-width="0.3" text-anchor="middle">16</text>
<text x="111" y="566.3" font-size="11" fill="#2e2e2e" stroke="#2e2e2e" stroke-width="0.3" text-anchor="middle">Oct</text>
<text x="189" y="566.3" font-size="11" fill="#2e2e2e" stroke="#2e2e2e" stroke-width="0.3" text-anchor="middle">15</text>
<text x="283.9" y="566.3" font-size="11" fill="#2e2e2e" stroke="#2e2e2e" stroke-width="0.3" text-anchor="middle">Nov</text>
<text x="362" y="566.3" font-size="11" fill="#2e2e2e" stroke="#2e2e2e" stroke-width="0.3" text-anchor="middle">15</text>
<text x="450.6" y="566.3" font-size="11" fill="#2e2e2e" stroke="#2e2e2e" stroke-width="0.3" text-anchor="middle">Dec</text>
<text x="534.4" y="566.3" font-size="11" fill="#2e2e2e" stroke="#2e2e2e" stroke-width="0.3" text-anchor="middle">16</text>
<text x="623.25" y="566.3" font-size="11" fill="#2e2e2e" stroke="#2e2e2e" stroke-width="0.3" text-anchor="middle" font-weight="bold">2025</text>
<text x="701" y="566.3" font-size="11" fill="#2e2e2e" stroke="#2e2e2e" stroke-width="0.3" text-anchor="middle">15</text>
<text x="796" y="566.3" font-size="11" fill="#2e2e2e" stroke="#2e2e2e" stroke-width="0.3" text-anchor="middle">Feb</text>
<text x="874" y="566.3" font-size="11" fill="#2e2e2e" stroke="#2e2e2e" stroke-width="0.3" text-anchor="middle">15</text>
<svg x="930" y="550" width="23.5" height="22"><text x="12.3" y="16.3" font-size="11" fill="#2e2e2e" stroke="#2e2e2e" stroke-width="0.3" textLength="15" lengthAdjust="spacingAndGlyphs">Ma</text></svg>
<circle cx="874.15" cy="537.6" r="8.95" fill="#fff" stroke="#9141b4" stroke-width="1.6"/>
<path d="M877.2,533.0 L871.6,538.0 L876.2,538.0 L871.2,542.6" fill="none" stroke="#9141b4" stroke-width="1.9" stroke-linejoin="round" stroke-linecap="round"/>
<circle cx="908" cy="537.2" r="8.8" fill="#fff" stroke="#d65c66" stroke-width="1.3"/>
<clipPath id="fl908"><circle cx="908" cy="537.2" r="6.6"/></clipPath>
<g clip-path="url(#fl908)">
<rect x="900" y="529.2" width="16" height="16" fill="#ffffff"/>
<rect x="900" y="529" width="16" height="4.1" fill="#e14b4b"/>
<rect x="900" y="535.9" width="16" height="2.9" fill="#e14b4b"/>
<rect x="900" y="541.6" width="16" height="4.4" fill="#e14b4b"/>
<rect x="901.9" y="529" width="8.9" height="10" fill="#3b7ad6"/>
<rect x="902.65" y="531.35" width="0.7" height="0.7" fill="#8fc0f0"/>
<rect x="902.65" y="533.35" width="0.7" height="0.7" fill="#8fc0f0"/>
<rect x="902.65" y="535.35" width="0.7" height="0.7" fill="#8fc0f0"/>
<rect x="904.65" y="531.35" width="0.7" height="0.7" fill="#8fc0f0"/>
<rect x="904.65" y="533.35" width="0.7" height="0.7" fill="#8fc0f0"/>
<rect x="904.65" y="535.35" width="0.7" height="0.7" fill="#8fc0f0"/>
<rect x="906.65" y="531.35" width="0.7" height="0.7" fill="#8fc0f0"/>
<rect x="906.65" y="533.35" width="0.7" height="0.7" fill="#8fc0f0"/>
<rect x="906.65" y="535.35" width="0.7" height="0.7" fill="#8fc0f0"/>
<rect x="908.65" y="531.35" width="0.7" height="0.7" fill="#8fc0f0"/>
<rect x="908.65" y="533.35" width="0.7" height="0.7" fill="#8fc0f0"/>
<rect x="908.65" y="535.35" width="0.7" height="0.7" fill="#8fc0f0"/>
</g>
<circle cx="895" cy="537.2" r="8.8" fill="#fff" stroke="#d65c66" stroke-width="1.3"/>
<clipPath id="fl895"><circle cx="895" cy="537.2" r="6.6"/></clipPath>
<g clip-path="url(#fl895)">
<rect x="887" y="529.2" width="16" height="16" fill="#ffffff"/>
<rect x="887" y="529" width="16" height="4.1" fill="#e14b4b"/>
<rect x="887" y="535.9" width="16" height="2.9" fill="#e14b4b"/>
<rect x="887" y="541.6" width="16" height="4.4" fill="#e14b4b"/>
<rect x="888.9" y="529" width="8.9" height="10" fill="#3b7ad6"/>
<rect x="889.65" y="531.35" width="0.7" height="0.7" fill="#8fc0f0"/>
<rect x="889.65" y="533.35" width="0.7" height="0.7" fill="#8fc0f0"/>
<rect x="889.65" y="535.35" width="0.7" height="0.7" fill="#8fc0f0"/>
<rect x="891.65" y="531.35" width="0.7" height="0.7" fill="#8fc0f0"/>
<rect x="891.65" y="533.35" width="0.7" height="0.7" fill="#8fc0f0"/>
<rect x="891.65" y="535.35" width="0.7" height="0.7" fill="#8fc0f0"/>
<rect x="893.65" y="531.35" width="0.7" height="0.7" fill="#8fc0f0"/>
<rect x="893.65" y="533.35" width="0.7" height="0.7" fill="#8fc0f0"/>
<rect x="893.65" y="535.35" width="0.7" height="0.7" fill="#8fc0f0"/>
<rect x="895.65" y="531.35" width="0.7" height="0.7" fill="#8fc0f0"/>
<rect x="895.65" y="533.35" width="0.7" height="0.7" fill="#8fc0f0"/>
<rect x="895.65" y="535.35" width="0.7" height="0.7" fill="#8fc0f0"/>
</g>
<path d="M9.4,586.9 H16.2 V595.6 H13 V589.7 H9.4 Z" fill="#131722"/>
<circle cx="19.5" cy="588.7" r="1.5" fill="#131722"/>
<path d="M22.6,586.9 H26.7 L23.75,595.6 H19.6 Z" fill="#131722"/>
<text x="31" y="596" font-size="12.5" fill="#333333" textLength="64.9" lengthAdjust="spacingAndGlyphs">TradingView</text>
</svg></body></html>
